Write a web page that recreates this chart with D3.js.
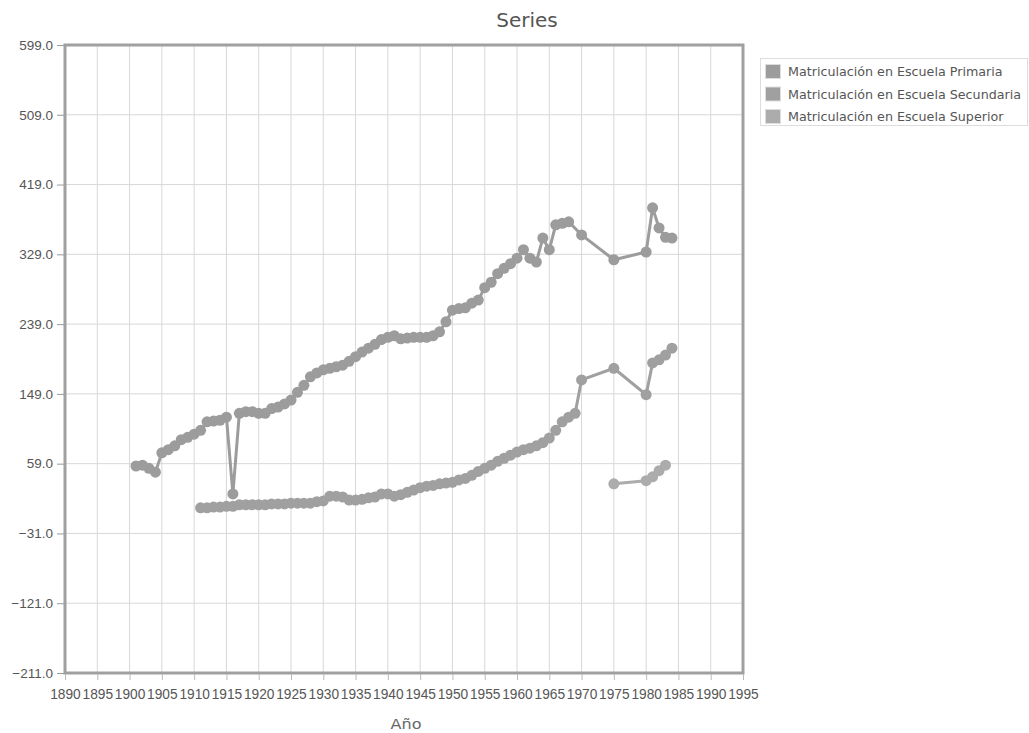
<!DOCTYPE html>
<html><head><meta charset="utf-8">
<script src="https://cdn.jsdelivr.net/npm/d3@7"></script>
<style>body{margin:0;background:#fff;}svg{display:block;font-family:"DejaVu Sans",Verdana,sans-serif;}</style>
</head><body><svg id="c" width="1029" height="733"></svg>
<script>
const seriesNames = ["Matriculación en Escuela Primaria","Matriculación en Escuela Secundaria","Matriculación en Escuela Superior"];
const primaryYears = [1901,1902,1903,1904,1905,1906,1907,1908,1909,1910,1911,1912,1913,1914,1915,1916,1917,1918,1919,1920,1921,1922,1923,1924,1925,1926,1927,1928,1929,1930,1931,1932,1933,1934,1935,1936,1937,1938,1939,1940,1941,1942,1943,1944,1945,1946,1947,1948,1949,1950,1951,1952,1953,1954,1955,1956,1957,1958,1959,1960,1961,1962,1963,1964,1965,1966,1967,1968,1970,1975,1980,1981,1982,1983,1984];
const primaryValues = [56,57,53,48,73,77,82,90,93,97,102,113,114,115,119,20,124,126,126,124,124,130,132,136,141,151,160,171,176,180,182,184,186,191,197,203,208,213,219,222,224,220,221,222,222,222,224,229,242,257,259,260,266,270,286,293,304,311,317,324,335,324,319,350,335,367,369,371,354,322,332,389,363,351,350];
const secondaryYears = [1911,1912,1913,1914,1915,1916,1917,1918,1919,1920,1921,1922,1923,1924,1925,1926,1927,1928,1929,1930,1931,1932,1933,1934,1935,1936,1937,1938,1939,1940,1941,1942,1943,1944,1945,1946,1947,1948,1949,1950,1951,1952,1953,1954,1955,1956,1957,1958,1959,1960,1961,1962,1963,1964,1965,1966,1967,1968,1969,1970,1975,1980,1981,1982,1983,1984];
const secondaryValues = [2,2,3,3,4,4,6,6,6,6,6,7,7,7,8,8,8,8,10,11,17,17,16,12,12,13,15,16,20,20,17,19,22,25,28,30,31,33,34,35,38,40,44,49,53,57,62,66,70,74,77,79,82,86,92,102,113,119,124,167,182,148,189,193,199,208];
const superiorYears = [1975,1980,1981,1982,1983];
const superiorValues = [33,37,42,50,57];
const xTicks = [1890,1895,1900,1905,1910,1915,1920,1925,1930,1935,1940,1945,1950,1955,1960,1965,1970,1975,1980,1985,1990,1995];
const yTicks = [599,509,419,329,239,149,59,-31,-121,-211];
const colors = ["#9c9c9c","#a0a0a0","#acacac"];

const svg = d3.select("#c");
const L=65,R=743,T=45,B=673;
const x = d3.scaleLinear().domain([1890,1995]).range([L,R]);
const y = d3.scaleLinear().domain([-211,599]).range([B,T]);

// grid
svg.append("g").selectAll("line").data(xTicks).join("line")
  .attr("x1",d=>x(d)).attr("x2",d=>x(d)).attr("y1",T).attr("y2",B)
  .attr("stroke","#d8d8d8").attr("stroke-width",1);
svg.append("g").selectAll("line").data(yTicks).join("line")
  .attr("x1",L).attr("x2",R).attr("y1",d=>y(d)).attr("y2",d=>y(d))
  .attr("stroke","#d8d8d8").attr("stroke-width",1);

// frame
svg.append("rect").attr("x",L).attr("y",T).attr("width",R-L).attr("height",B-T)
  .attr("fill","none").attr("stroke","#a0a0a0").attr("stroke-width",3);

// axes
const yAxis = d3.axisLeft(y).tickValues(yTicks).tickFormat(d3.format(".1f")).tickSize(7).tickPadding(4);
const gy = svg.append("g").attr("transform",`translate(${L-1},0)`).call(yAxis);
gy.select(".domain").remove();
gy.selectAll("line").attr("stroke","#999");
gy.selectAll("text").attr("fill","#555").attr("font-size","13.5px");

const xAxis = d3.axisBottom(x).tickValues(xTicks).tickFormat(d3.format("d")).tickSize(6).tickPadding(8);
const gx = svg.append("g").attr("transform",`translate(0,${B+1})`).call(xAxis);
gx.select(".domain").remove();
gx.selectAll("line").attr("stroke","#bbb");
gx.selectAll("text").attr("fill","#555").attr("font-size","15px")
  .attr("textLength",30.5).attr("lengthAdjust","spacingAndGlyphs");

// series
const data = [
  primaryYears.map((d,i)=>[d,primaryValues[i]]),
  secondaryYears.map((d,i)=>[d,secondaryValues[i]]),
  superiorYears.map((d,i)=>[d,superiorValues[i]])
];
const line = d3.line().x(d=>x(d[0])).y(d=>y(d[1]));
data.forEach((s,i)=>{
  svg.append("path").datum(s).attr("d",line).attr("fill","none")
    .attr("stroke",colors[i]).attr("stroke-width",3);
  svg.append("g").selectAll("circle").data(s).join("circle")
    .attr("cx",d=>x(d[0])).attr("cy",d=>y(d[1])).attr("r",5.5)
    .attr("fill",colors[i]);
});

// title & label
svg.append("text").attr("x",527).attr("y",27).attr("text-anchor","middle")
  .attr("font-size","20px").attr("fill","#555").text("Series");
svg.append("text").attr("x",406).attr("y",729).attr("text-anchor","middle")
  .attr("font-size","14.5px").attr("fill","#666").attr("textLength",31).attr("lengthAdjust","spacingAndGlyphs").text("Año");

// legend
const lg = svg.append("g");
lg.append("rect").attr("x",760.5).attr("y",58.5).attr("width",267).attr("height",67)
  .attr("fill","#fff").attr("stroke","#ddd");
seriesNames.forEach((n,i)=>{
  const yy = 64 + i*22.5;
  lg.append("rect").attr("x",765.5).attr("y",yy+0.5).attr("width",15).attr("height",14)
    .attr("fill",colors[i]).attr("stroke","#ddd");
  lg.append("text").attr("x",788).attr("y",yy+12).attr("font-size","12.7px").attr("fill","#555").text(n);
});
</script></body></html>
